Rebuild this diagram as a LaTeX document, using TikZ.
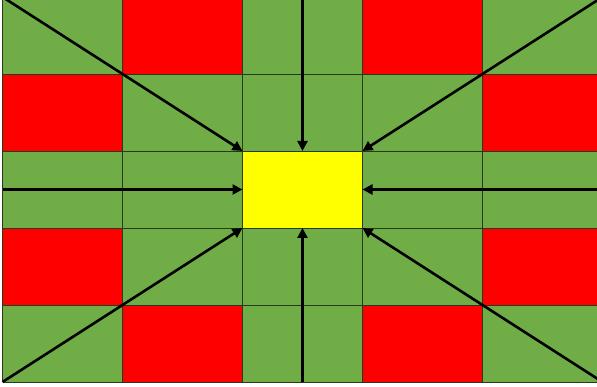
\documentclass[tikz,border=0pt]{standalone}
\usetikzlibrary{arrows.meta}
\definecolor{cellgreen}{RGB}{112,173,71}
\definecolor{cellred}{RGB}{255,0,0}
\definecolor{cellyellow}{RGB}{255,255,0}
\definecolor{cellline}{RGB}{38,58,28}
\tikzset{
  gridline/.style={draw=cellline,line width=0.9pt},
  hubcell/.style={draw=cellline,line width=0.9pt,fill=cellyellow,minimum width=120pt,minimum height=77pt,inner sep=0pt,outer sep=0pt},
  pointer/.style={line width=2.6pt,-{Triangle[length=10pt,width=10pt]}}
}

\begin{document}
\begin{tikzpicture}[x=1pt,y=1pt]
  \useasboundingbox (-2.5,-5) rectangle (594.5,382);
  \fill[cellgreen] (0,0) rectangle (600,385);
  \foreach \c/\r in {1/0,3/0,0/1,4/1,0/3,4/3,1/4,3/4}
    \fill[cellred] ({120*\c},{308-77*\r}) rectangle +(120,77);
  \draw[gridline] (0,0) grid[xstep=120,ystep=77] (600,385);
  \node[hubcell] (hub) at (300,192.5) {};

  \coordinate (nw) at (0,385);
  \coordinate (n) at (300,385);
  \coordinate (ne) at (600,385);
  \coordinate (w) at (0,192.5);
  \coordinate (e) at (600,192.5);
  \coordinate (sw) at (0,0);
  \coordinate (s) at (300,0);
  \coordinate (se) at (600,0);

  \draw[pointer] (nw) -- (hub.north west);
  \draw[pointer] (n) -- (hub.north);
  \draw[pointer] (ne) -- (hub.north east);
  \draw[pointer] (w) -- (hub.west);
  \draw[pointer] (e) -- (hub.east);
  \draw[pointer] (sw) -- (hub.south west);
  \draw[pointer] (s) -- (hub.south);
  \draw[pointer] (se) -- (hub.south east);
\end{tikzpicture}
\end{document}
